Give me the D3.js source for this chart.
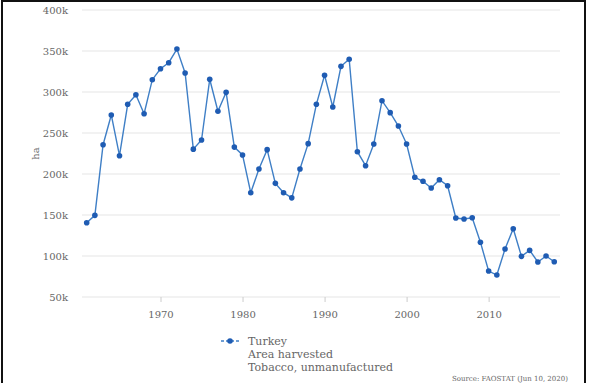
<!DOCTYPE html>
<meta charset="utf-8">
<style>
body { margin: 0; background: #fff; }
text { font-family: "DejaVu Serif", serif; fill: #666; }
.grid line { stroke: #e6e6e6; stroke-width: 1.2; }
.series { fill: none; stroke: #3f7fc6; stroke-width: 1.4; }
.dot { fill: #1f5cb3; }
</style>
<body>
<script src="https://d3js.org/d3.v7.min.js"></script>
<script>

var years = d3.range(1961, 2019);
var area = [140600, 149600, 235700, 272000, 222300, 285000, 296700, 273500, 315000, 328400,
            335700, 352400, 323200, 230300, 241500, 315500, 276500, 299600, 232800, 223200,
            177200, 206100, 229700, 188600, 177200, 170900, 206100, 237000, 285000, 320400,
            281700, 331300, 339900, 227200, 210100, 236600, 289400, 274800, 258500, 236600,
            196000, 191100, 182900, 193000, 185700, 146300, 145100, 146700, 116700, 81700,
            76800, 108500, 133300, 99600, 106900, 92700, 100000, 93000];
var yTicks = [50000, 100000, 150000, 200000, 250000, 300000, 350000, 400000];
var xTicks = [1970, 1980, 1990, 2000, 2010];
var legendLines = ["Turkey", "Area harvested", "Tobacco, unmanufactured"];

var W = 590, H = 383;
var margin = {top: 10, right: 30, bottom: 86, left: 82},
    width = 560 - margin.left,
    height = 297 - margin.top;

var svg = d3.select("body").append("svg")
    .attr("width", W)
    .attr("height", H);

// frame
svg.append("path")
    .attr("d", "M2,384 L2,1 L585,1 L585,384")
    .attr("fill", "none")
    .attr("stroke", "#111")
    .attr("stroke-width", 2);

var g = svg.append("g")
    .attr("transform", "translate(" + margin.left + "," + margin.top + ")");

var x = d3.scaleLinear().domain([1960.43, 2018.7]).range([0, width]);
var y = d3.scaleLinear().domain([50000, 400000]).range([height, 0]);

// gridlines
g.append("g").attr("class", "grid")
  .selectAll("line")
  .data(yTicks)
  .enter().append("line")
    .attr("x1", 0).attr("x2", width)
    .attr("y1", function(d) { return y(d); })
    .attr("y2", function(d) { return y(d); });

var fmt = function(d) { return (d / 1000) + "k"; };

var yAxis = g.append("g")
    .call(d3.axisLeft(y).tickValues(yTicks).tickFormat(fmt).tickSize(0).tickPadding(14));
yAxis.select(".domain").remove();
yAxis.selectAll("text").style("font-size", "10px").attr("fill", "#666");

var xAxis = g.append("g")
    .attr("transform", "translate(0," + height + ")")
    .call(d3.axisBottom(x).tickValues(xTicks).tickFormat(d3.format("d")).tickSize(5).tickPadding(9));
xAxis.select(".domain").remove();
xAxis.selectAll("line").attr("stroke", "#ccc");
xAxis.selectAll("text").style("font-size", "10px").attr("fill", "#666");

g.append("text")
    .attr("transform", "translate(" + (35 - margin.left) + "," + (height / 2) + ") rotate(-90)")
    .attr("text-anchor", "middle")
    .attr("dy", "0.35em")
    .style("font-size", "10px")
    .text("ha");

var line = d3.line()
    .x(function(d, i) { return x(years[i]); })
    .y(function(d) { return y(d); });

g.append("path")
    .datum(area)
    .attr("class", "series")
    .attr("d", line);

g.selectAll(".dot")
    .data(area)
  .enter().append("circle")
    .attr("class", "dot")
    .attr("r", 2.8)
    .attr("cx", function(d, i) { return x(years[i]); })
    .attr("cy", function(d) { return y(d); });

// legend
var lg = svg.append("g").attr("transform", "translate(221,341)");
lg.append("line")
    .attr("x1", 0).attr("x2", 18).attr("y1", 0).attr("y2", 0)
    .attr("stroke", "#3f7fc6").attr("stroke-width", 1.4)
    .attr("stroke-dasharray", "3,2");
lg.append("circle").attr("cx", 9).attr("cy", 0).attr("r", 2.8).attr("fill", "#1f5cb3");
lg.selectAll(".lt")
    .data(legendLines)
  .enter().append("text")
    .attr("class", "lt")
    .attr("x", 27)
    .attr("y", function(d, i) { return i * 13; })
    .attr("dy", "0.35em")
    .style("font-size", "11px")
    .text(function(d) { return d; });

svg.append("text")
    .attr("x", 452)
    .attr("y", 381)
    .style("font-size", "7px")
    .attr("fill", "#888")
    .text("Source: FAOSTAT (Jun 10, 2020)");

</script>
</body>
